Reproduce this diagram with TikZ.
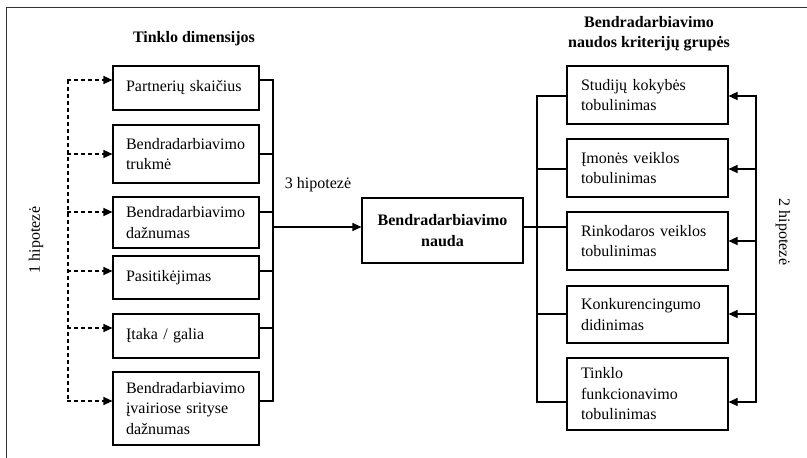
\documentclass[tikz,border=0pt]{standalone}
\usepackage{fontspec}
\setmainfont{Liberation Serif}
\usetikzlibrary{arrows.meta}
\begin{document}
\begin{tikzpicture}[x=1pt,y=-1pt,
  every node/.style={font=\fontsize{16}{20.5}\selectfont},
  ln/.style={line width=1.1pt},
  arr/.style={ln,-{Triangle[length=9pt,width=8pt]}},
  darr/.style={ln,dash pattern=on 4pt off 3pt,-{Triangle[length=9pt,width=8pt]}},
  dln/.style={ln,dash pattern=on 4pt off 3pt},
  lbox/.style={draw,ln,text width=120pt,inner xsep=13pt,inner ysep=0pt,align=left},
  rbox/.style={draw,ln,text width=133pt,inner xsep=14pt,inner ysep=0pt,align=left},
  cbox/.style={draw,ln,text width=140pt,inner xsep=10.5pt,inner ysep=0pt,align=center,font=\fontsize{16}{20.5}\selectfont\bfseries},
  ttl/.style={align=center,font=\fontsize{16}{20}\selectfont\bfseries},
  lab/.style={font=\fontsize{16}{20}\selectfont}]
\useasboundingbox (0,0) rectangle (807,458);
% frame
\draw[line width=1pt,black!80] (807,7) -- (6,7) -- (6,458);
% titles
\node[ttl] (t1) at (194,39) {Tinklo dimensijos};
\node[ttl] (t2) at (649,34) {Bendradarbiavimo\\naudos kriterijų grupės};
% left boxes
\node[lbox,minimum height=44pt] (L1) at (186,88) {Partnerių skaičius};
\node[lbox,minimum height=58pt] (L2) at (186,154) {Bendradarbiavimo\\trukmė};
\node[lbox,minimum height=51pt] (L3) at (186,222.5) {Bendradarbiavimo\\dažnumas};
\node[lbox,minimum height=43pt] (L4) at (186,277.5) {Pasitikėjimas};
\node[lbox,minimum height=44pt] (L5) at (186,336) {Įtaka / galia};
\node[lbox,minimum height=73pt] (L6) at (186,408.5) {Bendradarbiavimo\\įvairiose srityse\\dažnumas};
% center
\node[cbox,minimum height=65pt] (C) at (442.5,230.5) {Bendradarbiavimo\\nauda};
% right boxes
\node[rbox,minimum height=58pt] (R1) at (647.5,95) {Studijų kokybės\\tobulinimas};
\node[rbox,minimum height=58pt] (R2) at (647.5,168) {Įmonės veiklos\\tobulinimas};
\node[rbox,minimum height=58pt] (R3) at (647.5,241) {Rinkodaros veiklos\\tobulinimas};
\node[rbox,minimum height=57pt] (R4) at (647.5,314.5) {Konkurencingumo\\didinimas};
\node[rbox,minimum height=72pt] (R5) at (647.5,394) {Tinklo\\funkcionavimo\\tobulinimas};
% labels
\node[lab] (h3) at (318,185) {3 hipotezė};
\node[lab,rotate=90] (h1) at (36,240) {1 hipotezė};
\node[lab,rotate=-90] (h2) at (783,232) {2 hipotezė};
% left bus
\coordinate (lbT) at (273,80);
\coordinate (lbB) at (273,401);
\coordinate (lbM) at (273,227);
\draw[ln] (lbT) -- (lbB);
\foreach \n/\s in {L1/8,L2/0,L3/10.5,L4/6.5,L5/8,L6/7.5}{
  \draw[ln] ([yshift=\s pt]\n.east) -- ([yshift=\s pt,xshift=14pt]\n.east);
  \draw[darr] ([yshift=\s pt,xshift=-45pt]\n.west) -- ([yshift=\s pt]\n.west);
}
\draw[arr] (lbM) -- (lbM -| C.west);
% dashed bus
\coordinate (dT) at (68,80);
\coordinate (dB) at (68,401);
\draw[dln] (dT) -- (dB);
% right side
\coordinate (rbT) at (537,96);
\coordinate (rbB) at (537,402);
\draw[ln] (rbT) -- (rbB);
\draw[ln] ([yshift=3.5pt]C.east) -- ([yshift=3.5pt]C.east -| rbT);
\foreach \n/\s in {R1/-1,R2/-1,R3/14,R4/0.5,R5/-8}{
  \draw[ln] ([yshift=\s pt,xshift=-30pt]\n.west) -- ([yshift=\s pt]\n.west);
}
\coordinate (aT) at (756,96);
\coordinate (aB) at (756,402);
\draw[ln] (aT) -- (aB);
\foreach \n/\s in {R1/-1,R2/-1,R3/0,R4/0.5,R5/-8}{
  \draw[arr] ([yshift=\s pt,xshift=28pt]\n.east) -- ([yshift=\s pt]\n.east);
}
\end{tikzpicture}
\end{document}
